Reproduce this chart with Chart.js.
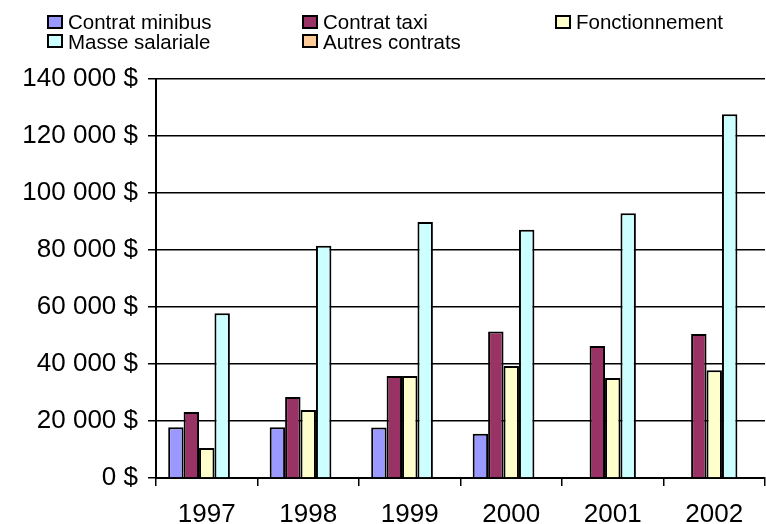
<!DOCTYPE html>
<html>
<head>
<meta charset="utf-8">
<script src="https://cdn.jsdelivr.net/npm/chart.js@4/dist/chart.umd.min.js"></script>
<style>
  html, body { margin: 0; padding: 0; background: #fff; }
  #wrap { position: relative; width: 766px; height: 524px; overflow: hidden; }
  #legend { position: absolute; left: 47px; top: 12px; display: grid;
            grid-template-columns: 255px 253px 200px; row-gap: 0;
            font-family: "Liberation Sans", Arial, sans-serif; font-size: 20.5px; line-height: 19.5px; color: #000; }
  #legend span.item { display: flex; align-items: center; white-space: nowrap; }
  #legend span.box { display: inline-block; width: 12px; height: 10px; border: 2px solid #000; margin-right: 5px; }
</style>
</head>
<body>
<div id="wrap">
  <canvas id="BarChart" width="766" height="524"></canvas>
  <div id="legend"></div>
</div>
<script>
const years = ['1997', '1998', '1999', '2000', '2001', '2002'];
const seriesNames = ['Contrat minibus', 'Contrat taxi', 'Fonctionnement', 'Masse salariale', 'Autres contrats'];
const minibus = [17800, 17800, 17700, 15500, 0, 0];
const taxi = [23200, 28400, 35800, 51400, 46300, 50500];
const fonctionnement = [10500, 23900, 35800, 39300, 35100, 37800];
const masseSalariale = [57800, 81500, 89800, 87100, 92900, 127600];
const autresContrats = [0, 0, 0, 0, 0, 0];
const colors = ['#9999FF', '#993366', '#FFFFCC', '#CCFFFF', '#FFCC99'];
const yTicks = [0, 20000, 40000, 60000, 80000, 100000, 120000, 140000];

const values = [minibus, taxi, fonctionnement, masseSalariale, autresContrats];

// legend laid out in three columns like the original
const legend = document.getElementById('legend');
seriesNames.forEach(function (name, i) {
  const item = document.createElement('span');
  item.className = 'item';
  item.innerHTML = '<span class="box" style="background:' + colors[i] + '"></span>' + name;
  legend.appendChild(item);
});

function money(v) {
  return String(v).replace(/\B(?=(\d{3})+(?!\d))/g, ' ') + ' $';
}

const ctx = document.getElementById('BarChart');

new Chart(ctx, {
  type: 'bar',
  data: {
    labels: years,
    datasets: seriesNames.map(function (name, i) {
      return {
        label: name,
        data: values[i].map(function (v) { return v === 0 ? null : v; }),
        backgroundColor: colors[i],
        borderColor: '#000',
        borderWidth: 2,
        borderSkipped: 'bottom',
        categoryPercentage: 0.76,
        barPercentage: 1
      };
    })
  },
  options: {
    responsive: false,
    animation: false,
    layout: { padding: { top: 79, right: 1, left: 0, bottom: 0 } },
    plugins: { legend: { display: false }, tooltip: { enabled: false } },
    scales: {
      x: {
        grid: { offset: true, drawOnChartArea: false, color: '#000', lineWidth: 1.5, tickLength: 8 },
        border: { color: '#000', width: 2 },
        ticks: { color: '#000', padding: 13, font: { family: 'Liberation Sans', size: 26 } },
        afterFit: function (s) { s.height = 46; }
      },
      y: {
        min: 0,
        max: 140000,
        afterBuildTicks: function (s) { s.ticks = yTicks.map(function (v) { return { value: v }; }); },
        grid: { color: '#000', lineWidth: 1.5, tickLength: 8 },
        border: { color: '#000', width: 2 },
        ticks: {
          color: '#000', padding: 10,
          font: { family: 'Liberation Sans', size: 26 },
          callback: function (v) { return money(v); }
        },
        afterFit: function (s) { s.width = 156; }
      }
    }
  }
});
</script>
</body>
</html>
